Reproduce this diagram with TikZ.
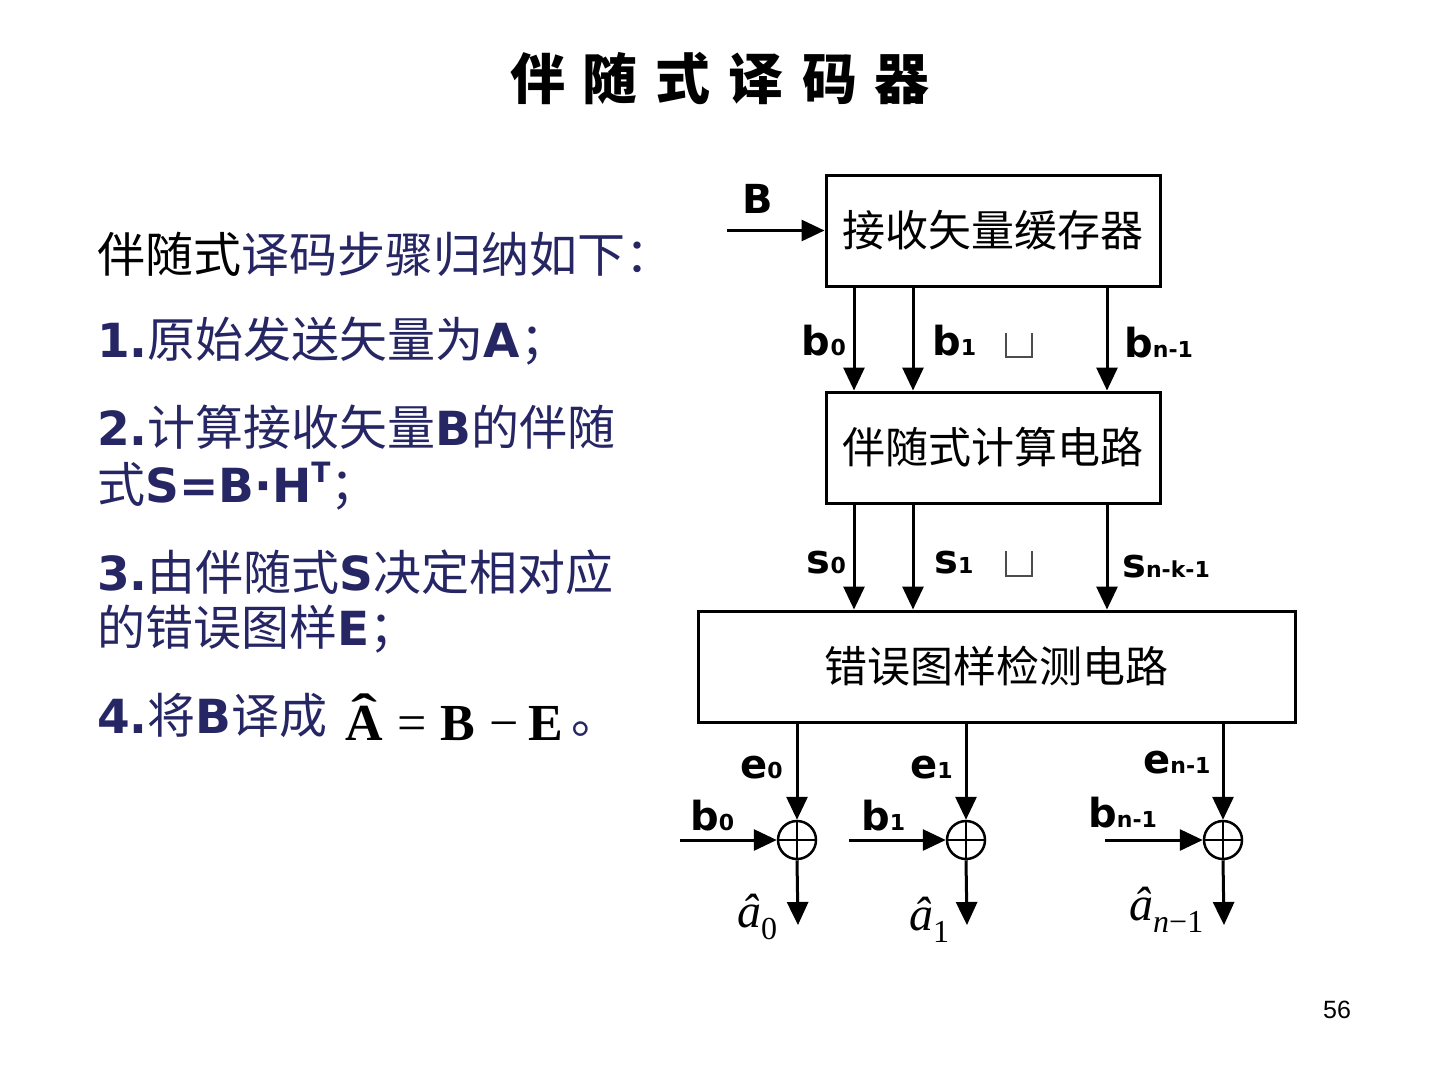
\documentclass[tikz,border=0pt]{standalone}
\usepackage[no-math]{fontspec}
\setmainfont{DejaVu Sans}
\newfontfamily\cjk{Noto Sans CJK SC}
\newfontfamily\arial{Liberation Sans}
\newfontfamily\serif{Liberation Serif}
\usetikzlibrary{arrows.meta}
\definecolor{navy}{RGB}{38,38,100}
\newcommand{\fs}[1]{\fontsize{#1}{#1}\selectfont}
\newcommand{\zh}[1]{{\cjk\fs{48}#1}}
\newcommand{\lab}[2]{{\fs{40}\bfseries #1}{\fs{22}\bfseries #2}}
\newcommand{\ahat}[1]{{\serif\itshape\fs{48}â}\raisebox{-12pt}{\serif\fs{32}#1}}
\begin{document}
\begin{tikzpicture}[x=1pt,y=-1pt,
  box/.style={draw, line width=3pt, inner sep=0pt, font=\cjk\fs{43}},
  arr/.style={line width=3pt, -{Triangle[length=23pt,width=21pt]}},
  xorc/.style={circle, draw, line width=2.5pt, minimum size=38pt, inner sep=0pt},
  lbl/.style={inner sep=0pt},
  txt/.style={anchor=base west, inner sep=0pt, text=navy, font=\fs{47}},
  missing/.style={line width=1.2pt, black!70}
]
\useasboundingbox[fill=white] (0,0) rectangle (1440,1080);

% title
\node[anchor=base, inner sep=0pt, font=\cjk\bfseries\fs{55}] (title) at (720,99)
  {伴\hspace{18pt}随\hspace{18pt}式\hspace{18pt}译\hspace{18pt}码\hspace{18pt}器};

% left text
\node[txt] (t1) at (97,272) {\zh{\color{black}伴随式}\zh{译码步骤归纳如下：}};
\node[txt] (t2) at (97,357) {{\bfseries 1.}\zh{原始发送矢量为}{\bfseries A}\zh{；}};
\node[txt] (t3) at (97,445) {{\bfseries 2.}\zh{计算接收矢量}{\bfseries B}\zh{的伴随}};
\node[txt] (t3b) at (97,502) {\zh{式}{\bfseries S=B·H\raisebox{20pt}{\fs{28}T}}\zh{；}};
\node[txt] (t4) at (97,590) {{\bfseries 3.}\zh{由伴随式}{\bfseries S}\zh{决定相对应}};
\node[txt] (t4b) at (97,645) {\zh{的错误图样}{\bfseries E}\zh{；}};
\node[txt] (t5) at (97,733) {{\bfseries 4.}\zh{将}{\bfseries B}\zh{译成}\hspace{18pt}\raisebox{-7pt}{\color{black}\serif\fs{52}{\bfseries\ooalign{A\cr\hidewidth\raisebox{10pt}{\scalebox{1.5}[1]{ˆ}}\hidewidth}}\hspace{14pt}=\hspace{14pt}{\bfseries B}\hspace{14pt}−\hspace{10pt}{\bfseries E}}\hspace{8pt}\zh{。}};

% boxes
\node[box, minimum width=334pt, minimum height=111pt] (buf) at (993,230.5) {接收矢量缓存器};
\node[box, minimum width=334pt, minimum height=111pt] (syn) at (993,447.5) {伴随式计算电路};
\node[box, minimum width=597pt, minimum height=111pt] (det) at (996.5,666.5) {错误图样检测电路};

% input B
\coordinate (bin) at (727,230.5);
\draw[arr] (bin) -- (buf.west);
\node[lbl, anchor=base west, font=\fs{40}\bfseries] (lB) at (742,213) {B};

% columns
\coordinate (c1) at (854,0);
\coordinate (c2) at (913,0);
\coordinate (c3) at (1107,0);
\foreach \c in {c1,c2,c3} {
  \draw[arr] (buf.south -| \c) -- (syn.north -| \c);
  \draw[arr] (syn.south -| \c) -- (det.north -| \c);
}
\node[lbl, anchor=base east] (lb0) at (846,355) {\lab{b}{0}};
\node[lbl, anchor=base west] (lb1) at (932,355) {\lab{b}{1}};
\node[lbl, anchor=base west] (lbn) at (1124,357) {\lab{b}{n-1}};
\draw[missing] (1006,333) -- (1006,357) -- (1032,357) -- (1032,333);

\node[lbl, anchor=base east] (ls0) at (846,573) {\lab{s}{0}};
\node[lbl, anchor=base west] (ls1) at (934,573) {\lab{s}{1}};
\node[lbl, anchor=base west] (lsn) at (1122,577) {\lab{s}{n-k-1}};
\draw[missing] (1006,551) -- (1006,576) -- (1032,576) -- (1032,551);

% adders
\foreach \n/\x/\ix/\ox in {0/797/680/798, 1/966/849/967, 2/1223/1105/1224} {
  \node[xorc] (x\n) at (\x,840) {};
  \draw[line width=2.2pt] (x\n.north) -- (x\n.south) (x\n.west) -- (x\n.east);
  \draw[arr] (det.south -| x\n) -- (x\n.north);
  \coordinate (i\n) at (\ix,840);
  \draw[arr] (i\n) -- (x\n.west);
  \coordinate (o\n) at (\ox,925);
  \draw[arr] (x\n.south) -- (o\n);
}
\node[lbl, anchor=base west] (le0) at (740,778) {\lab{e}{0}};
\node[lbl, anchor=base west] (le1) at (910,778) {\lab{e}{1}};
\node[lbl, anchor=base west] (len) at (1143,773) {\lab{e}{n-1}};
\node[lbl, anchor=base west] (lc0) at (690,830) {\lab{b}{0}};
\node[lbl, anchor=base west] (lc1) at (861,830) {\lab{b}{1}};
\node[lbl, anchor=base west] (lcn) at (1088,827) {\lab{b}{n-1}};

\node[lbl, anchor=base west] (a0) at (737,927) {\ahat{0}};
\node[lbl, anchor=base west] (a1) at (909,930) {\ahat{1}};
\node[lbl, anchor=base west] (an) at (1129,920) {\ahat{{\itshape n}−1}};

% page number
\node[lbl, anchor=base, font=\arial\fs{25}] (pg) at (1337,1018) {56};
\end{tikzpicture}
\end{document}
